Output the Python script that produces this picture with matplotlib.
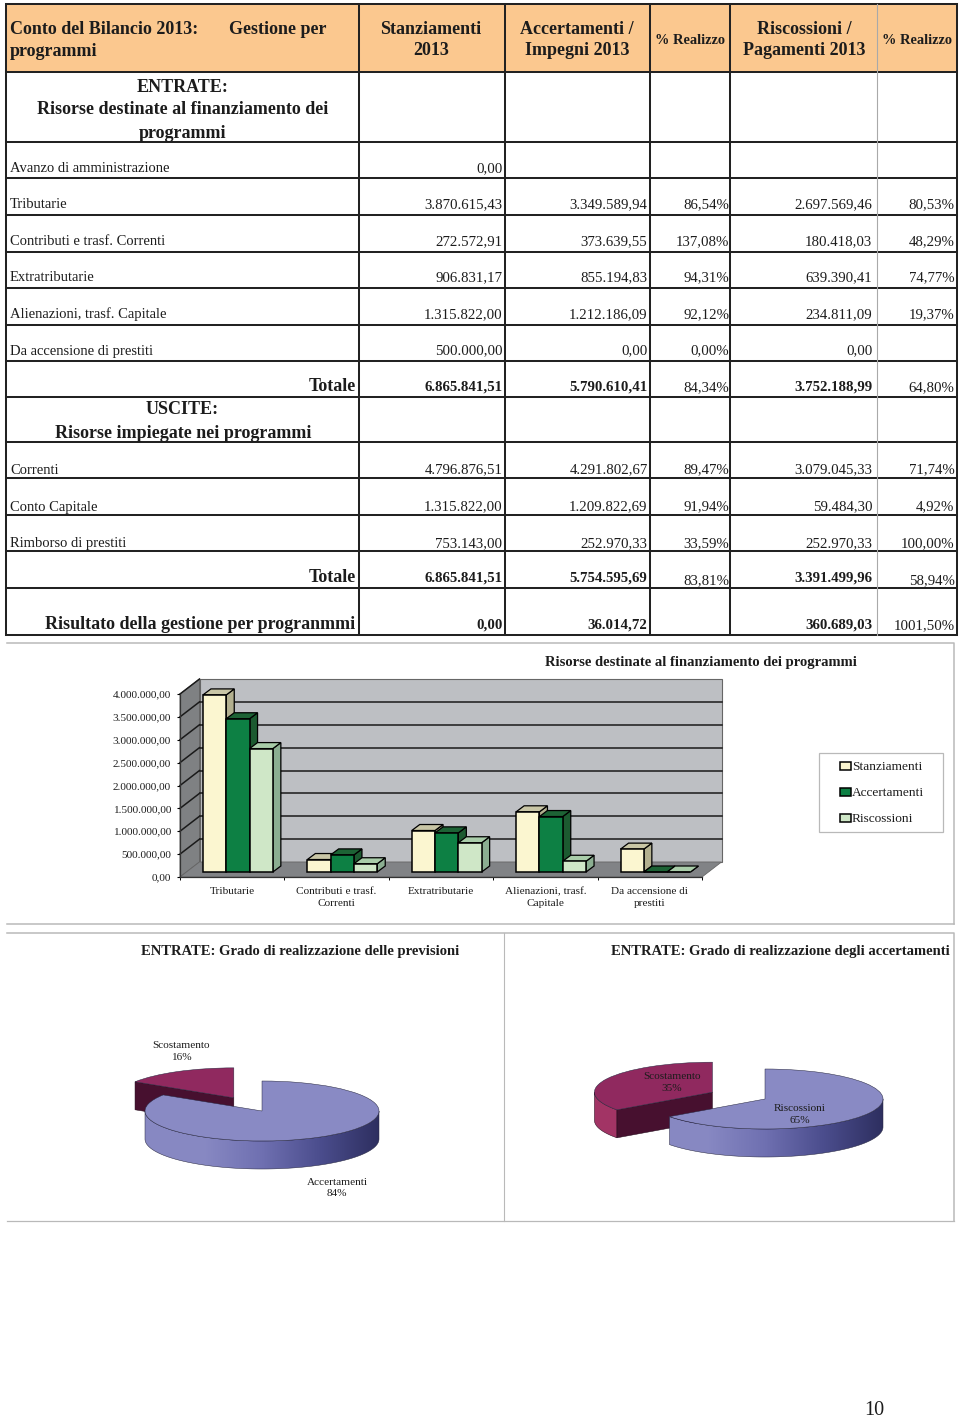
import numpy as np
import matplotlib
matplotlib.use('Agg')
import matplotlib.pyplot as plt
from matplotlib.colors import LinearSegmentedColormap
from matplotlib.patches import Polygon, Rectangle

plt.rcParams['font.family'] = ['Liberation Serif', 'DejaVu Sans']

W, H = 960, 1418

# table data
ROW_LABELS = ["Avanzo di amministrazione", "Tributarie", "Contributi e trasf. Correnti", "Extratributarie",
              "Alienazioni, trasf. Capitale", "Da accensione di prestiti", "Totale",
              "Correnti", "Conto Capitale", "Rimborso di prestiti", "Totale",
              "Risultato della gestione per progranmmi"]
COL_STANZ = ["0,00", "3.870.615,43", "272.572,91", "906.831,17", "1.315.822,00", "500.000,00", "6.865.841,51",
             "4.796.876,51", "1.315.822,00", "753.143,00", "6.865.841,51", "0,00"]
COL_ACC = ["", "3.349.589,94", "373.639,55", "855.194,83", "1.212.186,09", "0,00", "5.790.610,41",
           "4.291.802,67", "1.209.822,69", "252.970,33", "5.754.595,69", "36.014,72"]
COL_PERC1 = ["", "86,54%", "137,08%", "94,31%", "92,12%", "0,00%", "84,34%",
             "89,47%", "91,94%", "33,59%", "83,81%", ""]
COL_RISC = ["", "2.697.569,46", "180.418,03", "639.390,41", "234.811,09", "0,00", "3.752.188,99",
            "3.079.045,33", "59.484,30", "252.970,33", "3.391.499,96", "360.689,03"]
COL_PERC2 = ["", "80,53%", "48,29%", "74,77%", "19,37%", "", "64,80%",
             "71,74%", "4,92%", "100,00%", "58,94%", "1001,50%"]

# bar chart data
CATEGORIES = ["Tributarie", "Contributi e trasf.\nCorrenti", "Extratributarie",
              "Alienazioni, trasf.\nCapitale", "Da accensione di\nprestiti"]
STANZIAMENTI = [3870615.43, 272572.91, 906831.17, 1315822.00, 500000.00]
ACCERTAMENTI = [3349589.94, 373639.55, 855194.83, 1212186.09, 0.00]
RISCOSSIONI = [2697569.46, 180418.03, 639390.41, 234811.09, 0.00]
Y_TICKS = [0, 500000, 1000000, 1500000, 2000000, 2500000, 3000000, 3500000, 4000000]
Y_LABELS = ["0,00", "500.000,00", "1.000.000,00", "1.500.000,00", "2.000.000,00",
            "2.500.000,00", "3.000.000,00", "3.500.000,00", "4.000.000,00"]

# pie data
PIE1_VALUES = [84, 16]
PIE2_VALUES = [65, 35]

TXT = '#1c1c1c'
GRID = '#b9b9b9'

fig = plt.figure(figsize=(W / 100, H / 100), dpi=100)
page = fig.add_axes([0, 0, 1, 1])
page.set_xlim(0, W)
page.set_ylim(H, 0)
page.axis('off')


def box_axes(left, top, right, bottom):
    return fig.add_axes([left / W, 1 - bottom / H, (right - left) / W, (bottom - top) / H])


# ---- table ----
HLINES = [4, 72, 142, 178, 215, 252, 288, 325, 360.5, 396.5, 442, 478, 514.5, 551, 587.5, 634.5]
VLINES = [6, 359, 504.5, 650, 730, 957]

page.add_patch(Rectangle((6, 4), 951, 68, fc='#fbc88f', ec='none'))
for y in HLINES:
    page.plot([6, 957], [y, y], color='#222222', lw=1.45, solid_capstyle='projecting')
for x in VLINES:
    page.plot([x, x], [4, 634.5], color='#222222', lw=1.45, solid_capstyle='projecting')
page.plot([877, 877], [4, 634.5], color='#a9a9a9', lw=0.8)


def htext(x, y, s, size=13.0, ha='center'):
    page.text(x, y, s, fontsize=size, fontweight='bold', ha=ha, va='baseline', color=TXT)


htext(10, 34, "Conto del Bilancio 2013:", ha='left')
htext(229, 34, "Gestione per", ha='left')
htext(10, 56, "programmi", ha='left')
htext(431, 34, "Stanziamenti")
htext(431, 55, "2013")
htext(577, 34, "Accertamenti /")
htext(577, 55, "Impegni 2013")
htext(690, 43.5, "% Realizzo", size=10.4)
htext(804, 34, "Riscossioni /")
htext(804, 55, "Pagamenti 2013")
htext(917, 43.5, "% Realizzo", size=10.4)
htext(183, 92.5, "ENTRATE:")
htext(183, 114, "Risorse destinate al finanziamento dei")
htext(183, 138, "programmi")
htext(182, 414, "USCITE:")
htext(183, 437.5, "Risorse impiegate nei programmi")

ROW_BASE = [172.5, 208.5, 245, 281, 318, 354.5, 391, 473.5, 510.5, 547, 582, 629]
BOLD_ROWS = [6, 10, 11]
for i, label in enumerate(ROW_LABELS):
    y = ROW_BASE[i]
    if i in BOLD_ROWS:
        htext(355.5, y, label, ha='right')
    else:
        page.text(10, y, label, fontsize=10.5, ha='left', va='baseline', color=TXT)
    bold = 'bold' if i in BOLD_ROWS else 'normal'
    page.text(502.5, y, COL_STANZ[i], fontsize=10.7, fontweight=bold, ha='right', color=TXT)
    page.text(647.5, y, COL_ACC[i], fontsize=10.7, fontweight=bold, ha='right', color=TXT)
    page.text(729, y + (2 if i == 10 else 0), COL_PERC1[i], fontsize=10.7, ha='right', color=TXT)
    page.text(872.5, y, COL_RISC[i], fontsize=10.7, fontweight=bold, ha='right', color=TXT)
    page.text(954.5, y + (2 if i == 10 else 0), COL_PERC2[i], fontsize=10.7, ha='right', color=TXT)

# ---- panel frames ----
page.plot([7, 954, 954], [643, 643, 923.5], color=GRID, lw=1.1)
page.plot([7, 954], [923.5, 923.5], color=GRID, lw=1.1)
page.plot([7, 954, 954], [932.5, 932.5, 1221], color=GRID, lw=1.1)
page.plot([7, 954], [1221, 1221], color=GRID, lw=0.9)
page.plot([504, 504], [932.5, 1221], color=GRID, lw=0.8)
page.add_patch(Rectangle((819, 753), 124, 79, fc='white', ec=GRID, lw=0.9))

page.text(701, 666, "Risorse destinate al finanziamento dei programmi", fontsize=10.5, fontweight='bold',
          ha='center', color=TXT)
page.text(300, 955.5, "ENTRATE: Grado di realizzazione delle previsioni", fontsize=10.55, fontweight='bold',
          ha='center', color=TXT)
page.text(780, 955.5, "ENTRATE: Grado di realizzazione degli accertamenti", fontsize=10.55, fontweight='bold',
          ha='center', color=TXT)
page.text(874, 1415, "10", fontsize=14.5, ha='center', color=TXT)

# ---- 3d looking bar chart ----
ax = box_axes(180, 694, 702, 877)
ax.set_facecolor('none')
ax.set_xlim(-0.5, 4.5)
ax.set_ylim(0, 4000000)

px_x = 5 / 522  # data units of x for one pixel
px_y = 4000000 / 183
wall_dx, wall_dy = 19.5 * px_x, 15 * px_y
x0, x1 = -0.5, 4.5
y_top = Y_TICKS[-1]

ax.add_patch(Polygon([(x0 + wall_dx, wall_dy), (x1 + wall_dx, wall_dy), (x1 + wall_dx, y_top + wall_dy),
                      (x0 + wall_dx, y_top + wall_dy)], fc='#bdbfc3', ec='#666666', lw=0.8, clip_on=False, zorder=1))
ax.add_patch(Polygon([(x0, 0), (x0 + wall_dx, wall_dy), (x0 + wall_dx, y_top + wall_dy), (x0, y_top)],
                     fc='#7f8183', ec='#555555', lw=0.6, clip_on=False, zorder=1))
ax.add_patch(Polygon([(x0, 0), (x1, 0), (x1 + wall_dx, wall_dy), (x0 + wall_dx, wall_dy)],
                     fc='#818386', ec='#666666', lw=0.6, clip_on=False, zorder=1))
for v in Y_TICKS[1:-1]:
    ax.plot([x0 + wall_dx, x1 + wall_dx], [v + wall_dy, v + wall_dy], color='#1a1a1a', lw=1.1, clip_on=False, zorder=1.5)
for v in Y_TICKS[1:]:
    ax.plot([x0, x0 + wall_dx], [v, v + wall_dy], color='#1a1a1a', lw=1.1, clip_on=False, zorder=1.5)

bar_w = 23.3 * px_x
bar_dx = 8 * px_x
bar_dy = 6 * px_y
shift = 5.7 * px_x
base = 5 * px_y

SERIES = [("Stanziamenti", STANZIAMENTI, '#fbf6d0', '#c9c6a6', '#b3b08f'),
          ("Accertamenti", ACCERTAMENTI, '#0d8044', '#1d6335', '#1c5a30'),
          ("Riscossioni", RISCOSSIONI, '#cfe7c7', '#a9cda9', '#8bae91')]

handles = []
for s, (name, values, front, top_c, side_c) in enumerate(SERIES):
    xs = np.arange(len(CATEGORIES)) + shift + (s - 1) * bar_w
    z = 3 + s
    for xc, v in zip(xs, values):
        xl, xr = xc - bar_w / 2, xc + bar_w / 2
        yt = base + v
        ax.add_patch(Polygon([(xr, base), (xr + bar_dx, base + bar_dy), (xr + bar_dx, yt + bar_dy), (xr, yt)],
                             fc=side_c, ec='black', lw=0.9, clip_on=False, zorder=z))
        ax.add_patch(Polygon([(xl, yt), (xr, yt), (xr + bar_dx, yt + bar_dy), (xl + bar_dx, yt + bar_dy)],
                             fc=top_c, ec='black', lw=0.9, clip_on=False, zorder=z))
    bars = ax.bar(xs, values, bar_w, bottom=base, color=front, edgecolor='black', linewidth=1.1,
                  zorder=z + 0.5, label=name, clip_on=False)
    handles.append(bars)

for sp in ['top', 'right']:
    ax.spines[sp].set_visible(False)
for sp in ['left', 'bottom']:
    ax.spines[sp].set_linewidth(0.9)
    ax.spines[sp].set_color('#333333')
    ax.spines[sp].set_zorder(2)
ax.set_yticks(Y_TICKS)
ax.set_yticklabels(Y_LABELS, fontsize=8.1, color=TXT)
ax.tick_params(axis='y', length=2.5, width=0.8, pad=4)
ax.set_xticks(np.arange(len(CATEGORIES)))
ax.set_xticklabels(CATEGORIES, fontsize=8.1, color=TXT, linespacing=1.4)
ax.set_xticks(np.arange(len(CATEGORIES) + 1) - 0.5, minor=True)
ax.tick_params(axis='x', which='major', length=0, pad=7)
ax.tick_params(axis='x', which='minor', length=2.5, width=0.7)

leg = ax.legend(handles=handles, frameon=False, loc='center', bbox_to_anchor=(882, 793.5), bbox_transform=page.transData,
                fontsize=9.6, handlelength=0.8, handleheight=0.55, handletextpad=0.1, labelspacing=1.05,
                borderpad=0, borderaxespad=0)
for t in leg.get_texts():
    t.set_color(TXT)

# ---- pseudo 3d pies ----
BLUE_TOP = '#898ac4'
RED_TOP = '#90295f'
RED_DARK = '#47102f'
side_cmap = LinearSegmentedColormap.from_list('side', ['#8788c2', '#8889c3', '#6f70b1', '#4b4d8d', '#2e2f60'])


def draw_pie(cx, cy, rx, ry, values, depth_px, labels):
    umin, umax, vmin, vmax = -1.75, 1.25, -2.3, 1.7
    a = box_axes(cx + rx * umin, cy - ry * vmax, cx + rx * umax, cy - ry * vmin)
    a.patch.set_alpha(0)
    wedges, _ = a.pie(values, startangle=90, counterclock=False, explode=[0, 0.5], colors=[BLUE_TOP, RED_TOP],
                      wedgeprops={'edgecolor': '#26263f', 'linewidth': 0.35})
    a.set_aspect('auto')
    a.set_xlim(umin, umax)
    a.set_ylim(vmin, vmax)
    depth = depth_px / ry

    blue, red = wedges
    red.set_zorder(3)
    blue.set_zorder(8)

    # dark cut face of the detached slice
    rx0, ry0 = red.center
    ang = np.deg2rad(red.theta2)
    ex, ey = rx0 + np.cos(ang), ry0 + np.sin(ang)
    a.add_patch(Polygon([(rx0, ry0), (ex, ey), (ex, ey - depth), (rx0, ry0 - depth)], fc=RED_DARK, ec='#200818',
                        lw=0.35, zorder=2.5))

    # outer rims, only the part facing the viewer
    for w, z, face in [(red, 2, '#a23465'), (blue, 5, None)]:
        t1 = max(w.theta1, -180)
        t2 = min(w.theta2, 0)
        if t2 <= t1:
            continue
        th = np.deg2rad(np.arange(t1, t2 + 0.5, 1.0))
        top_edge = np.column_stack([w.center[0] + np.cos(th), w.center[1] + np.sin(th)])
        low_edge = top_edge - [0, depth]
        outline = np.vstack([top_edge, low_edge[::-1]])
        if face:
            a.add_patch(Polygon(outline, fc=face, ec='#200818', lw=0.35, zorder=z))
        else:
            rim = Polygon(outline, fc='none', ec='#26263f', lw=0.35, zorder=z + 0.5)
            a.add_patch(rim)
            im = a.imshow(np.linspace(0, 1, 256)[None, :], extent=(w.center[0] - 1, w.center[0] + 1, vmin, vmax),
                          cmap=side_cmap, aspect='auto', zorder=z)
            im.set_clip_path(rim)
    a.set_xlim(umin, umax)
    a.set_ylim(vmin, vmax)

    for (lx, ly, s) in labels:
        a.text(lx, ly, s, fontsize=8.1, ha='center', va='center', color=TXT, linespacing=1.4, transform=page.transData,
               clip_on=False, zorder=12)


draw_pie(262, 1111, 117, 30, PIE1_VALUES, 28,
         [(181, 1051.5, "Scostamento\n16%"), (337, 1188, "Accertamenti\n84%")])
draw_pie(765, 1099, 118, 30, PIE2_VALUES, 28,
         [(672, 1082.5, "Scostamento\n35%"), (800, 1114.5, "Riscossioni\n65%")])

fig.savefig('out.png', dpi=100)
